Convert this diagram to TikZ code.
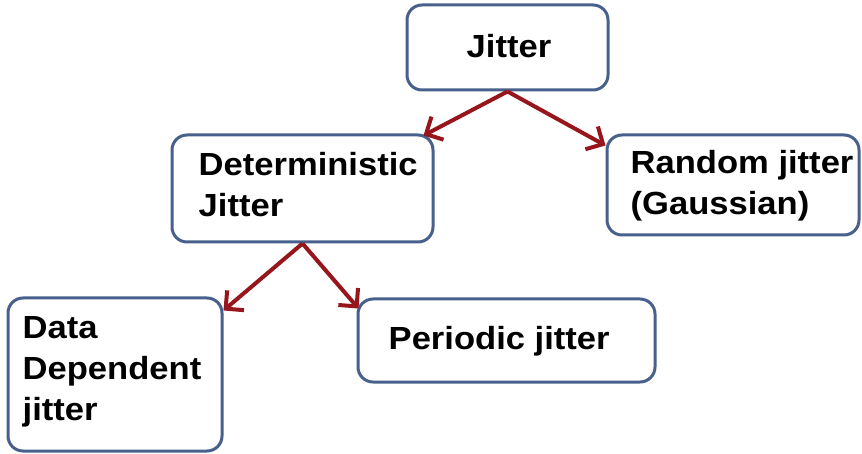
\documentclass[tikz,border=0pt]{standalone}
\usepackage{fontspec}
\setmainfont{Liberation Sans}
\newfontfamily\boxfont[FakeStretch=1.08]{Liberation Sans}
\usetikzlibrary{arrows.meta}
\definecolor{boxline}{RGB}{72,96,140}
\definecolor{arrowred}{RGB}{150,22,28}

\begin{document}
\begin{tikzpicture}[x=1pt,y=-1pt,
    jbox/.style={draw=boxline,line width=3pt,rounded corners=15pt,inner sep=0pt},
    jtext/.style={inner sep=0pt,anchor=base west,align=left,
      font=\boxfont\bfseries\fontsize{32}{41}\selectfont},
    jarrow/.style={draw=arrowred,line width=4pt,-{Straight Barb[length=13pt,width=26pt]}}]
    \useasboundingbox (0,0) rectangle (862,454);
    \node [jbox,minimum width=201pt,minimum height=85pt] (jit) at (507.5,47.5) {};
    \node [jbox,minimum width=261pt,minimum height=107pt] (det) at (302.5,188.5) {};
    \node [jbox,minimum width=252pt,minimum height=100pt] (ran) at (733,185) {};
    \node [jbox,minimum width=214pt,minimum height=153pt] (dat) at (115,374.5) {};
    \node [jbox,minimum width=297pt,minimum height=83pt] (per) at (506.5,340.5) {};
    \node [jtext] (jitt) at ([xshift=61pt,yshift=-54pt]jit.north west) {Jitter};
    \node [jtext] (dett) at ([xshift=28pt,yshift=-83pt]det.north west) {Deterministic\\Jitter};
    \node [jtext] (rant) at ([xshift=25pt,yshift=-81pt]ran.north west) {Random jitter\\(Gaussian)};
    \node [jtext] (datt) at ([xshift=16pt,yshift=-124pt]dat.north west) {Data\\Dependent\\jitter};
    \node [jtext] (pert) at ([xshift=32pt,yshift=-52pt]per.north west) {Periodic jitter};
    \draw [jarrow] (jit.south) -- ([xshift=-11pt,yshift=-2pt]det.north east);
    \draw [jarrow] (jit.south) -- ([yshift=-12pt]ran.north west);
    \draw [jarrow] (det.south) -- ([yshift=-14pt]dat.north east);
    \draw [jarrow] (det.south) -- ([xshift=2pt,yshift=-11pt]per.north west);
\end{tikzpicture}
\end{document}
